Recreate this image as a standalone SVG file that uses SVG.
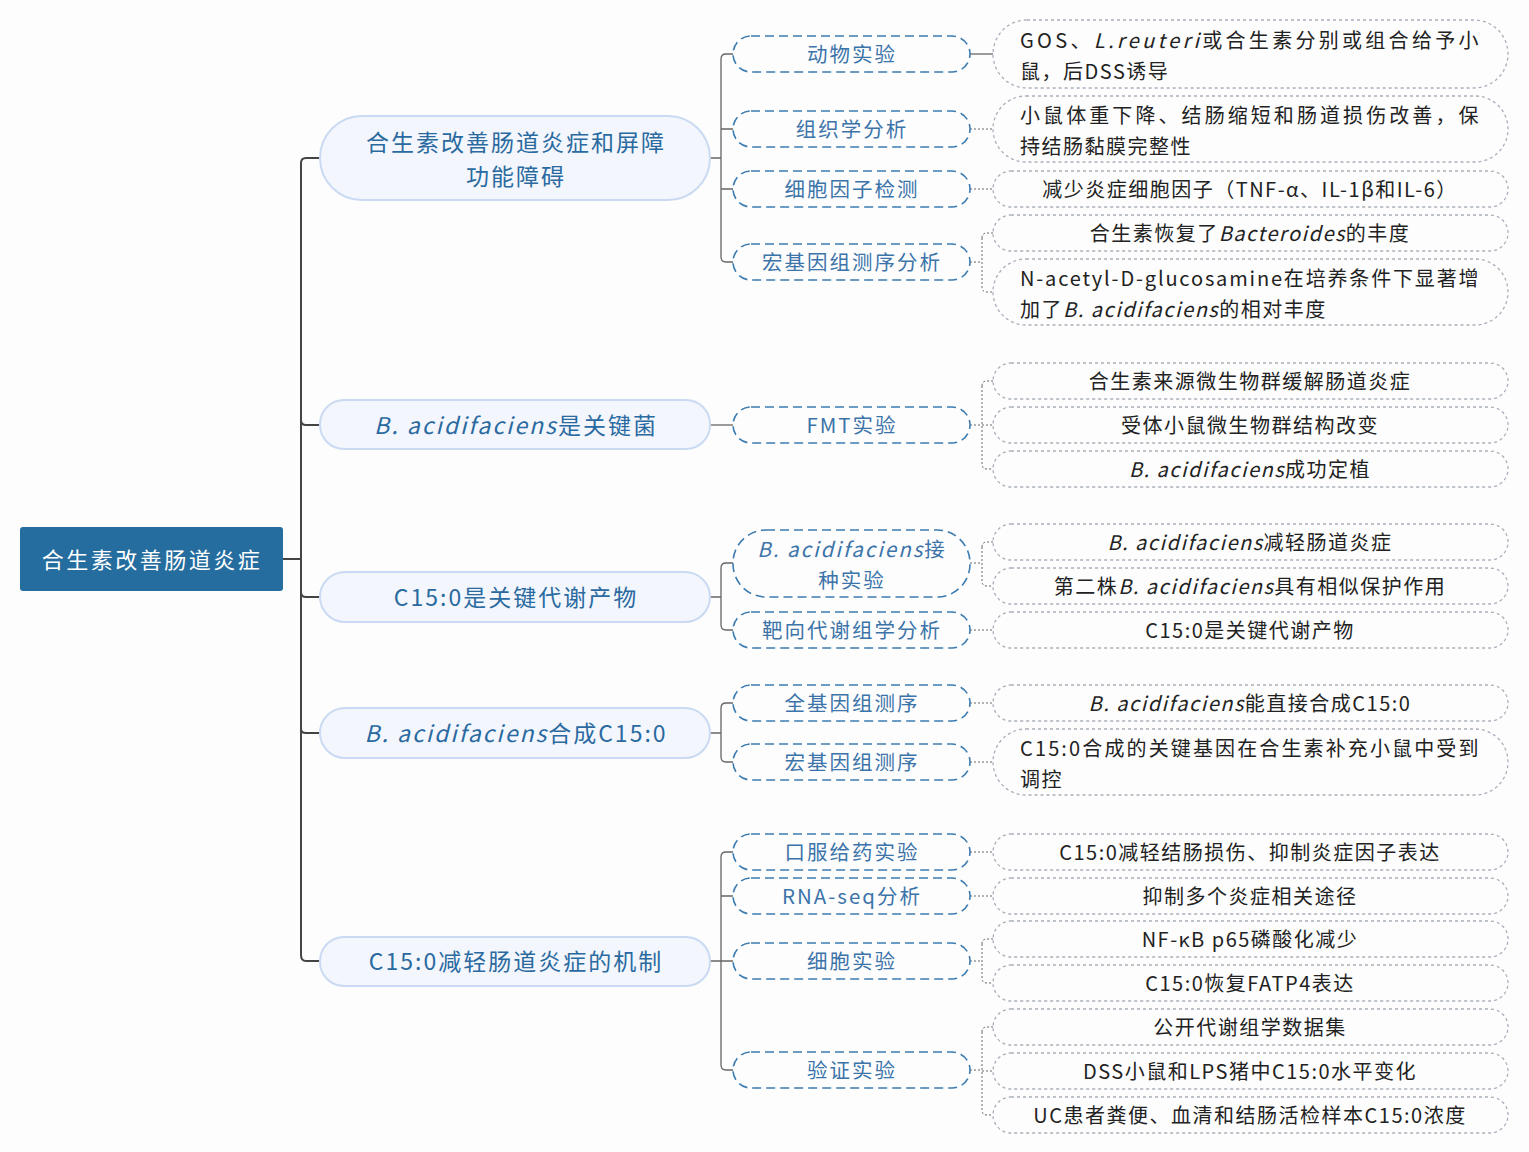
<svg xmlns="http://www.w3.org/2000/svg" width="1529" height="1152" viewBox="0 0 1529 1152">
<style>
text{font-family:"Noto Sans CJK SC","Noto Sans",sans-serif;letter-spacing:1.5px}
.l1{fill:#f3f6fd;stroke:#c9daf2;stroke-width:2}
.t1{fill:#2a6aa0;font-size:23px;text-anchor:middle;letter-spacing:2px}
.l2{fill:none;stroke:#3c7bb0;stroke-width:1.6;stroke-dasharray:9 5}
.t2{fill:#3c74aa;font-size:20.5px;text-anchor:middle;letter-spacing:2px}
.l3{fill:none;stroke:#a9afbb;stroke-width:1.3;stroke-dasharray:3 3}
.t3{fill:#222;font-size:20px;text-anchor:middle}
.tl{fill:#222;font-size:20px}
.c{fill:none;stroke:#444;stroke-width:2}
.c2{fill:none;stroke:#666;stroke-width:1.3}
.c3{fill:none;stroke:#666;stroke-width:1;stroke-dasharray:2 2}
.it{font-style:italic}
</style>
<rect width="1529" height="1152" fill="#fdfdfd"/>
<g id="connectors">
<path class="c" d="M283 559H301M306 158H320M306 425H320M306 597H320M306 733H320M306 961H320M301 559V163Q301 158 306 158M301 559V420Q301 425 306 425M301 559V955Q301 961 306 961M301 733V729Q301 733 306 733M301 597V592Q301 597 306 597"/>
<path class="c2" d="M710 158H721M721 59Q721 54 726 54H733M721 59V257Q721 262 726 262H733M721 129H733M721 189H733"/>
<path class="c2" d="M710 425H733"/>
<path class="c2" d="M710 597H721M721 568Q721 563 726 563H733M721 568V625Q721 630 726 630H733"/>
<path class="c2" d="M710 733H721M721 708Q721 703 726 703H733M721 708V757Q721 762 726 762H733"/>
<path class="c2" d="M710 961H721M721 857Q721 852 726 852H733M721 857V1065Q721 1070 726 1070H733M721 896H733M721 961H733"/>
<path class="c2" d="M970 54H993"/>
<path class="c3" d="M970 129H993M970 189H993M970 630H993M970 703H993M970 762H993M970 852H993M970 896H993"/>
<path class="c3" d="M970 262H982M982 238Q982 233 987 233H993M982 238V287Q982 292 987 292H993"/>
<path class="c3" d="M970 425H982M982 386Q982 381 987 381H993M982 386V464Q982 469 987 469H993M982 425H993"/>
<path class="c3" d="M970 563H982M982 547Q982 542 987 542H993M982 547V581Q982 586 987 586H993"/>
<path class="c3" d="M970 961H982M982 944Q982 939 987 939H993M982 944V978Q982 983 987 983H993"/>
<path class="c3" d="M970 1070H982M982 1032Q982 1027 987 1027H993M982 1032V1110Q982 1115 987 1115H993M982 1071H993"/>
</g>
<g id="root"><rect x="20" y="527" width="263" height="64" rx="3" fill="#256d9e"/><text x="152" y="568" fill="#fff" font-size="22" text-anchor="middle" style="letter-spacing:2.5px">合生素改善肠道炎症</text></g>
<g id="n1"><rect class="l1" x="320" y="116" width="390" height="84" rx="42"/><text class="t1" x="516" y="151">合生素改善肠道炎症和屏障</text><text class="t1" x="516" y="185">功能障碍</text></g>
<g id="n2"><rect class="l1" x="320" y="400" width="390" height="49" rx="24"/><text class="t1" x="516" y="434"><tspan class="it">B. acidifaciens</tspan>是关键菌</text></g>
<g id="n3"><rect class="l1" x="320" y="572" width="390" height="50" rx="25"/><text class="t1" x="516" y="606">C15:0是关键代谢产物</text></g>
<g id="n4"><rect class="l1" x="320" y="708" width="390" height="50" rx="25"/><text class="t1" x="516" y="742"><tspan class="it">B. acidifaciens</tspan>合成C15:0</text></g>
<g id="n5"><rect class="l1" x="320" y="937" width="390" height="49" rx="24"/><text class="t1" x="516" y="970">C15:0减轻肠道炎症的机制</text></g>
<g id="m1"><rect class="l2" x="733" y="36" width="237" height="36" rx="18"/><text class="t2" x="852" y="62">动物实验</text></g>
<g id="m2"><rect class="l2" x="733" y="111" width="237" height="36" rx="18"/><text class="t2" x="852" y="137">组织学分析</text></g>
<g id="m3"><rect class="l2" x="733" y="171" width="237" height="36" rx="18"/><text class="t2" x="852" y="197">细胞因子检测</text></g>
<g id="m4"><rect class="l2" x="733" y="244" width="237" height="36" rx="18"/><text class="t2" x="852" y="270">宏基因组测序分析</text></g>
<g id="m5"><rect class="l2" x="733" y="407" width="237" height="36" rx="18"/><text class="t2" x="852" y="433">FMT实验</text></g>
<g id="m6"><rect class="l2" x="733" y="530" width="237" height="67" rx="33"/><text class="t2" x="852" y="557"><tspan class="it">B. acidifaciens</tspan>接</text><text class="t2" x="852" y="588">种实验</text></g>
<g id="m7"><rect class="l2" x="733" y="612" width="237" height="36" rx="18"/><text class="t2" x="852" y="638">靶向代谢组学分析</text></g>
<g id="m8"><rect class="l2" x="733" y="685" width="237" height="36" rx="18"/><text class="t2" x="852" y="711">全基因组测序</text></g>
<g id="m9"><rect class="l2" x="733" y="744" width="237" height="36" rx="18"/><text class="t2" x="852" y="770">宏基因组测序</text></g>
<g id="m10"><rect class="l2" x="733" y="834" width="237" height="36" rx="18"/><text class="t2" x="852" y="860">口服给药实验</text></g>
<g id="m11"><rect class="l2" x="733" y="878" width="237" height="36" rx="18"/><text class="t2" x="852" y="904">RNA-seq分析</text></g>
<g id="m12"><rect class="l2" x="733" y="943" width="237" height="36" rx="18"/><text class="t2" x="852" y="969">细胞实验</text></g>
<g id="m13"><rect class="l2" x="733" y="1052" width="237" height="36" rx="18"/><text class="t2" x="852" y="1078">验证实验</text></g>
<g id="d1"><rect class="l3" x="993" y="20" width="515" height="68" rx="34"/><text class="tl" x="1020" y="48" textLength="460" lengthAdjust="spacing">GOS、<tspan class="it">L.reuteri</tspan>或合生素分别或组合给予小</text><text class="tl" x="1020" y="79">鼠，后DSS诱导</text></g>
<g id="d2"><rect class="l3" x="993" y="96" width="515" height="66" rx="33"/><text class="tl" x="1020" y="123" textLength="460" lengthAdjust="spacing">小鼠体重下降、结肠缩短和肠道损伤改善，保</text><text class="tl" x="1020" y="154">持结肠黏膜完整性</text></g>
<g id="d3"><rect class="l3" x="993" y="171" width="515" height="36" rx="18"/><text class="t3" x="1250" y="197">减少炎症细胞因子（TNF-α、IL-1β和IL-6）</text></g>
<g id="d4"><rect class="l3" x="993" y="215" width="515" height="36" rx="18"/><text class="t3" x="1250" y="241">合生素恢复了<tspan class="it">Bacteroides</tspan>的丰度</text></g>
<g id="d5"><rect class="l3" x="993" y="259" width="515" height="66" rx="33"/><text class="tl" x="1020" y="286" textLength="460" lengthAdjust="spacing">N-acetyl-D-glucosamine在培养条件下显著增</text><text class="tl" x="1020" y="317">加了<tspan class="it">B. acidifaciens</tspan>的相对丰度</text></g>
<g id="d6"><rect class="l3" x="993" y="363" width="515" height="36" rx="18"/><text class="t3" x="1250" y="389">合生素来源微生物群缓解肠道炎症</text></g>
<g id="d7"><rect class="l3" x="993" y="407" width="515" height="36" rx="18"/><text class="t3" x="1250" y="433">受体小鼠微生物群结构改变</text></g>
<g id="d8"><rect class="l3" x="993" y="451" width="515" height="36" rx="18"/><text class="t3" x="1250" y="477"><tspan class="it">B. acidifaciens</tspan>成功定植</text></g>
<g id="d9"><rect class="l3" x="993" y="524" width="515" height="36" rx="18"/><text class="t3" x="1250" y="550"><tspan class="it">B. acidifaciens</tspan>减轻肠道炎症</text></g>
<g id="d10"><rect class="l3" x="993" y="568" width="515" height="36" rx="18"/><text class="t3" x="1250" y="594">第二株<tspan class="it">B. acidifaciens</tspan>具有相似保护作用</text></g>
<g id="d11"><rect class="l3" x="993" y="612" width="515" height="36" rx="18"/><text class="t3" x="1250" y="638">C15:0是关键代谢产物</text></g>
<g id="d12"><rect class="l3" x="993" y="685" width="515" height="36" rx="18"/><text class="t3" x="1250" y="711"><tspan class="it">B. acidifaciens</tspan>能直接合成C15:0</text></g>
<g id="d13"><rect class="l3" x="993" y="729" width="515" height="66" rx="33"/><text class="tl" x="1020" y="756" textLength="460" lengthAdjust="spacing">C15:0合成的关键基因在合生素补充小鼠中受到</text><text class="tl" x="1020" y="787">调控</text></g>
<g id="d14"><rect class="l3" x="993" y="834" width="515" height="36" rx="18"/><text class="t3" x="1250" y="860">C15:0减轻结肠损伤、抑制炎症因子表达</text></g>
<g id="d15"><rect class="l3" x="993" y="878" width="515" height="36" rx="18"/><text class="t3" x="1250" y="904">抑制多个炎症相关途径</text></g>
<g id="d16"><rect class="l3" x="993" y="921" width="515" height="36" rx="18"/><text class="t3" x="1250" y="947">NF-κB p65磷酸化减少</text></g>
<g id="d17"><rect class="l3" x="993" y="965" width="515" height="36" rx="18"/><text class="t3" x="1250" y="991">C15:0恢复FATP4表达</text></g>
<g id="d18"><rect class="l3" x="993" y="1009" width="515" height="36" rx="18"/><text class="t3" x="1250" y="1035">公开代谢组学数据集</text></g>
<g id="d19"><rect class="l3" x="993" y="1053" width="515" height="36" rx="18"/><text class="t3" x="1250" y="1079">DSS小鼠和LPS猪中C15:0水平变化</text></g>
<g id="d20"><rect class="l3" x="993" y="1097" width="515" height="36" rx="18"/><text class="t3" x="1250" y="1123">UC患者粪便、血清和结肠活检样本C15:0浓度</text></g>
</svg>
